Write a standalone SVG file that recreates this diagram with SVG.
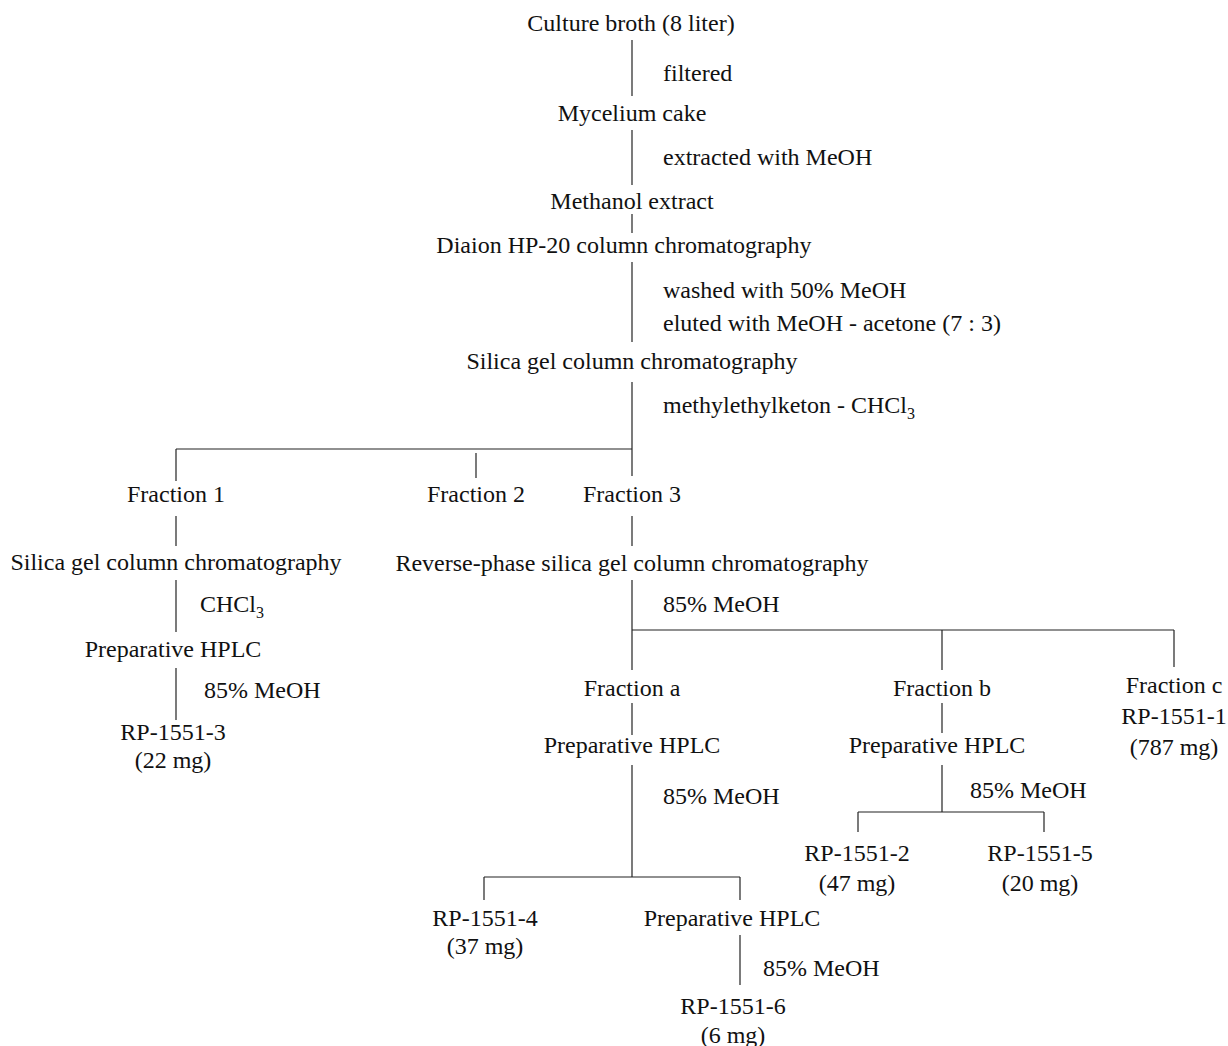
<svg xmlns="http://www.w3.org/2000/svg" width="1228" height="1046" viewBox="0 0 1228 1046">
<style>
text{font-family:"Liberation Serif","Times New Roman",serif;font-size:24px;fill:#111}
.c{text-anchor:middle}
.sub{font-size:16px}
#connectors line{stroke:#222;stroke-width:1.2;fill:none}
</style>
<rect width="1228" height="1046" fill="#fff"/>
<g id="connectors">
<line x1="632" y1="40" x2="632" y2="96"/>
<line x1="632" y1="130" x2="632" y2="185"/>
<line x1="632" y1="214" x2="632" y2="233"/>
<line x1="632" y1="262" x2="632" y2="342"/>
<line x1="632" y1="382" x2="632" y2="476"/>
<line x1="176" y1="449" x2="632" y2="449"/>
<line x1="176" y1="449" x2="176" y2="481"/>
<line x1="476" y1="453" x2="476" y2="478"/>
<line x1="176" y1="516" x2="176" y2="546"/>
<line x1="632" y1="516" x2="632" y2="546"/>
<line x1="176" y1="580" x2="176" y2="632"/>
<line x1="176" y1="668" x2="176" y2="720"/>
<line x1="632" y1="580" x2="632" y2="670"/>
<line x1="632" y1="630" x2="1174" y2="630"/>
<line x1="942" y1="630" x2="942" y2="670"/>
<line x1="1174" y1="630" x2="1174" y2="667"/>
<line x1="632" y1="703" x2="632" y2="735"/>
<line x1="942" y1="703" x2="942" y2="733"/>
<line x1="632" y1="765" x2="632" y2="877"/>
<line x1="942" y1="765" x2="942" y2="812"/>
<line x1="858" y1="812" x2="1044" y2="812"/>
<line x1="858" y1="812" x2="858" y2="832"/>
<line x1="1044" y1="812" x2="1044" y2="832"/>
<line x1="484" y1="877" x2="740" y2="877"/>
<line x1="484" y1="877" x2="484" y2="900"/>
<line x1="740" y1="877" x2="740" y2="900"/>
<line x1="740" y1="935" x2="740" y2="985"/>
</g>
<g id="culture-broth"><text class="c" x="631" y="31">Culture broth (8 liter)</text></g>
<g id="step-filtered"><text x="663" y="81">filtered</text></g>
<g id="mycelium-cake"><text class="c" x="632" y="121">Mycelium cake</text></g>
<g id="step-extracted"><text x="663" y="165">extracted with MeOH</text></g>
<g id="methanol-extract"><text class="c" x="632" y="209">Methanol extract</text></g>
<g id="diaion"><text class="c" x="624" y="253">Diaion HP-20 column chromatography</text></g>
<g id="step-washed"><text x="663" y="298">washed with 50% MeOH</text><text x="663" y="331">eluted with MeOH - acetone (7 : 3)</text></g>
<g id="silica-gel-1"><text class="c" x="632" y="369">Silica gel column chromatography</text></g>
<g id="step-mek"><text x="663" y="413">methylethylketon - CHCl<tspan class="sub" dy="6">3</tspan></text></g>
<g id="fraction-1"><text class="c" x="176" y="502">Fraction 1</text></g>
<g id="fraction-2"><text class="c" x="476" y="502">Fraction 2</text></g>
<g id="fraction-3"><text class="c" x="632" y="502">Fraction 3</text></g>
<g id="silica-gel-2"><text class="c" x="176" y="570">Silica gel column chromatography</text></g>
<g id="step-chcl3"><text x="200" y="612">CHCl<tspan class="sub" dy="6">3</tspan></text></g>
<g id="hplc-1"><text class="c" x="173" y="657">Preparative HPLC</text></g>
<g id="step-meoh-1"><text x="204" y="698">85% MeOH</text></g>
<g id="rp-1551-3"><text class="c" x="173" y="740">RP-1551-3</text><text class="c" x="173" y="768">(22 mg)</text></g>
<g id="reverse-phase"><text class="c" x="632" y="571">Reverse-phase silica gel column chromatography</text></g>
<g id="step-meoh-2"><text x="663" y="612">85% MeOH</text></g>
<g id="fraction-a"><text class="c" x="632" y="696">Fraction a</text></g>
<g id="fraction-b"><text class="c" x="942" y="696">Fraction b</text></g>
<g id="fraction-c"><text class="c" x="1174" y="693">Fraction c</text><text class="c" x="1174" y="724">RP-1551-1</text><text class="c" x="1174" y="755">(787 mg)</text></g>
<g id="hplc-a"><text class="c" x="632" y="753">Preparative HPLC</text></g>
<g id="hplc-b"><text class="c" x="937" y="753">Preparative HPLC</text></g>
<g id="step-meoh-a"><text x="663" y="804">85% MeOH</text></g>
<g id="step-meoh-b"><text x="970" y="798">85% MeOH</text></g>
<g id="rp-1551-2"><text class="c" x="857" y="861">RP-1551-2</text><text class="c" x="857" y="891">(47 mg)</text></g>
<g id="rp-1551-5"><text class="c" x="1040" y="861">RP-1551-5</text><text class="c" x="1040" y="891">(20 mg)</text></g>
<g id="rp-1551-4"><text class="c" x="485" y="926">RP-1551-4</text><text class="c" x="485" y="954">(37 mg)</text></g>
<g id="hplc-c"><text class="c" x="732" y="926">Preparative HPLC</text></g>
<g id="step-meoh-c"><text x="763" y="976">85% MeOH</text></g>
<g id="rp-1551-6"><text class="c" x="733" y="1014">RP-1551-6</text><text class="c" x="733" y="1043">(6 mg)</text></g>
</svg>
